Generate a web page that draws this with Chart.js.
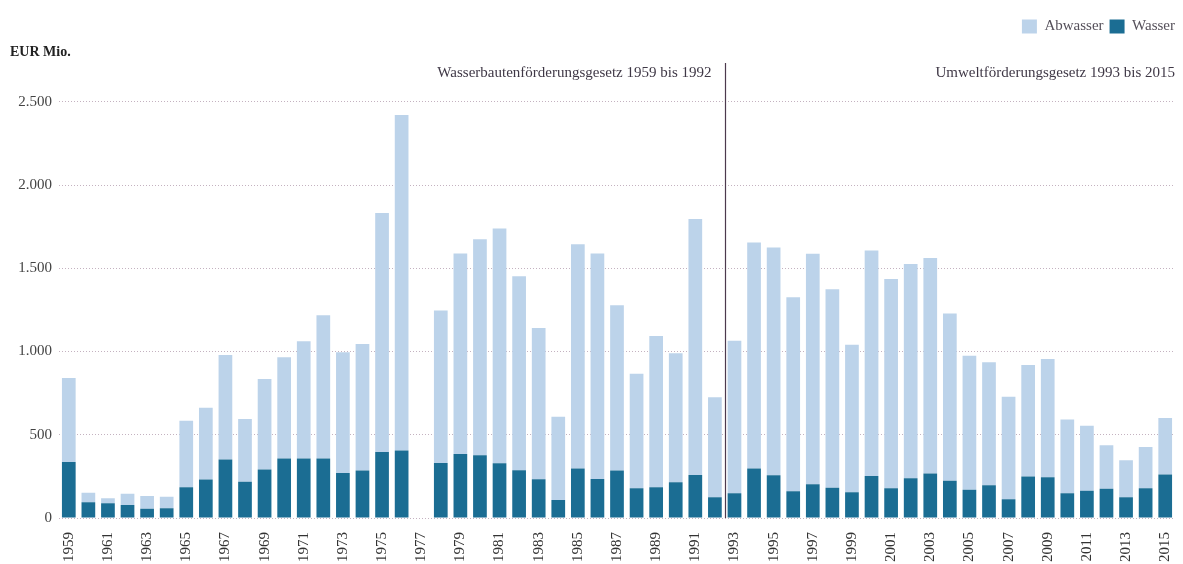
<!DOCTYPE html>
<html>
<head>
<meta charset="utf-8">
<script src="https://cdn.jsdelivr.net/npm/chart.js@4"></script>
<style>
  html, body { margin: 0; padding: 0; background: #fff; overflow: hidden; }
  #wrap { width: 1183px; height: 564px; position: relative; }
  canvas { display: block; }
</style>
</head>
<body>
<div id="wrap"><canvas id="foerderChart"></canvas></div>
<script>
const years = [];
for (let y = 1959; y <= 2015; y++) years.push(String(y));

// EUR Mio. (1977: no bar)
const wasser = [
  337, 94, 88, 78, 56, 58, 184, 231, 351, 217, 291, 357, 357, 357, 271, 285, 397, 405,
  null,
  331, 385, 377, 329, 287, 233, 108, 297, 235, 285, 178, 184, 215, 259, 124,
  148, 297, 257, 161, 203, 181, 154, 253, 178, 239, 267, 223, 169, 197, 112, 249, 245,
  148, 163, 175, 124, 179, 261
];
const abwasser = [
  504, 57, 30, 67, 76, 70, 400, 431, 628, 377, 544, 608, 704, 861, 724, 760, 1435, 2015,
  null,
  915, 1204, 1298, 1410, 1165, 908, 500, 1348, 1354, 993, 689, 909, 774, 1537, 602,
  917, 1358, 1368, 1165, 1384, 1193, 887, 1354, 1257, 1286, 1294, 1005, 806, 738, 616, 670, 710,
  444, 391, 262, 223, 247, 339
];
const periods = [
  { text: "Wasserbautenförderungsgesetz 1959 bis 1992", last: "1992" },
  { text: "Umweltförderungsgesetz 1993 bis 2015", last: "2015" }
];

const serif = "'Liberation Serif', 'DejaVu Serif', serif";

function fmt(v) {
  return String(v).replace(/\B(?=(\d{3})+(?!\d))/g, ".");
}

// divider line between the two laws + the period captions
const periodPlugin = {
  id: "periods",
  afterDraw(chart) {
    const { ctx, chartArea } = chart;
    const x = chart.scales.x;
    const i = years.indexOf(periods[0].last);
    const lineX = Math.round((x.getPixelForValue(i) + x.getPixelForValue(i + 1)) / 2) + 0.5;
    ctx.save();
    ctx.strokeStyle = "#4d3a4e";
    ctx.lineWidth = 1.2;
    ctx.beginPath();
    ctx.moveTo(lineX, 63);
    ctx.lineTo(lineX, chartArea.bottom);
    ctx.stroke();

    ctx.fillStyle = "#3f3846";
    ctx.font = "15px " + serif;
    ctx.textAlign = "right";
    ctx.textBaseline = "middle";
    ctx.fillText(periods[0].text, lineX - 14, 73);
    ctx.fillText(periods[1].text, chartArea.right, 73);
    ctx.restore();
  }
};

const ctx = document.getElementById("foerderChart").getContext("2d");
new Chart(ctx, {
  type: "bar",
  data: {
    labels: years,
    datasets: [
      {
        label: "Wasser",
        data: wasser,
        backgroundColor: "#1b6d93",
        barPercentage: 0.7,
        categoryPercentage: 1
      },
      {
        label: "Abwasser",
        data: abwasser,
        backgroundColor: "#bcd3ea",
        barPercentage: 0.7,
        categoryPercentage: 1
      }
    ]
  },
  options: {
    responsive: true,
    maintainAspectRatio: false,
    animation: false,
    layout: { padding: { top: 13, right: 2, left: 10, bottom: 0 } },
    plugins: {
      legend: {
        position: "top",
        align: "end",
        reverse: true,
        labels: {
          boxWidth: 15,
          boxHeight: 14,
          padding: 6,
          color: "#55505a",
          font: { family: serif, size: 15 }
        }
      },
      title: {
        display: true,
        text: "EUR Mio.",
        align: "start",
        weight: 500,
        color: "#222",
        font: { family: serif, size: 14, weight: "bold" },
        padding: { top: 0, bottom: 41 }
      },
      tooltip: { enabled: false }
    },
    scales: {
      x: {
        stacked: true,
        grid: { display: false },
        border: { display: false },
        afterFit(scale) {
          scale.height = 46;
          scale.paddingRight = 8;
          scale.paddingLeft = 0;
        },
        ticks: {
          autoSkip: false,
          maxRotation: 90,
          minRotation: 90,
          padding: 6,
          color: "#333",
          font: { family: serif, size: 15 },
          callback: (v, i) => (i % 2 === 0 ? years[i] : "")
        }
      },
      y: {
        stacked: true,
        min: 0,
        max: 2500,
        afterFit(scale) { scale.width = 49; },
        grid: { color: "#c4b2c0", lineWidth: 1, drawTicks: false },
        border: { display: false, dash: [1, 2] },
        ticks: {
          stepSize: 500,
          padding: 7,
          color: "#444",
          font: { family: serif, size: 15 },
          callback: v => fmt(v)
        }
      }
    }
  },
  plugins: [periodPlugin]
});
</script>
</body>
</html>
